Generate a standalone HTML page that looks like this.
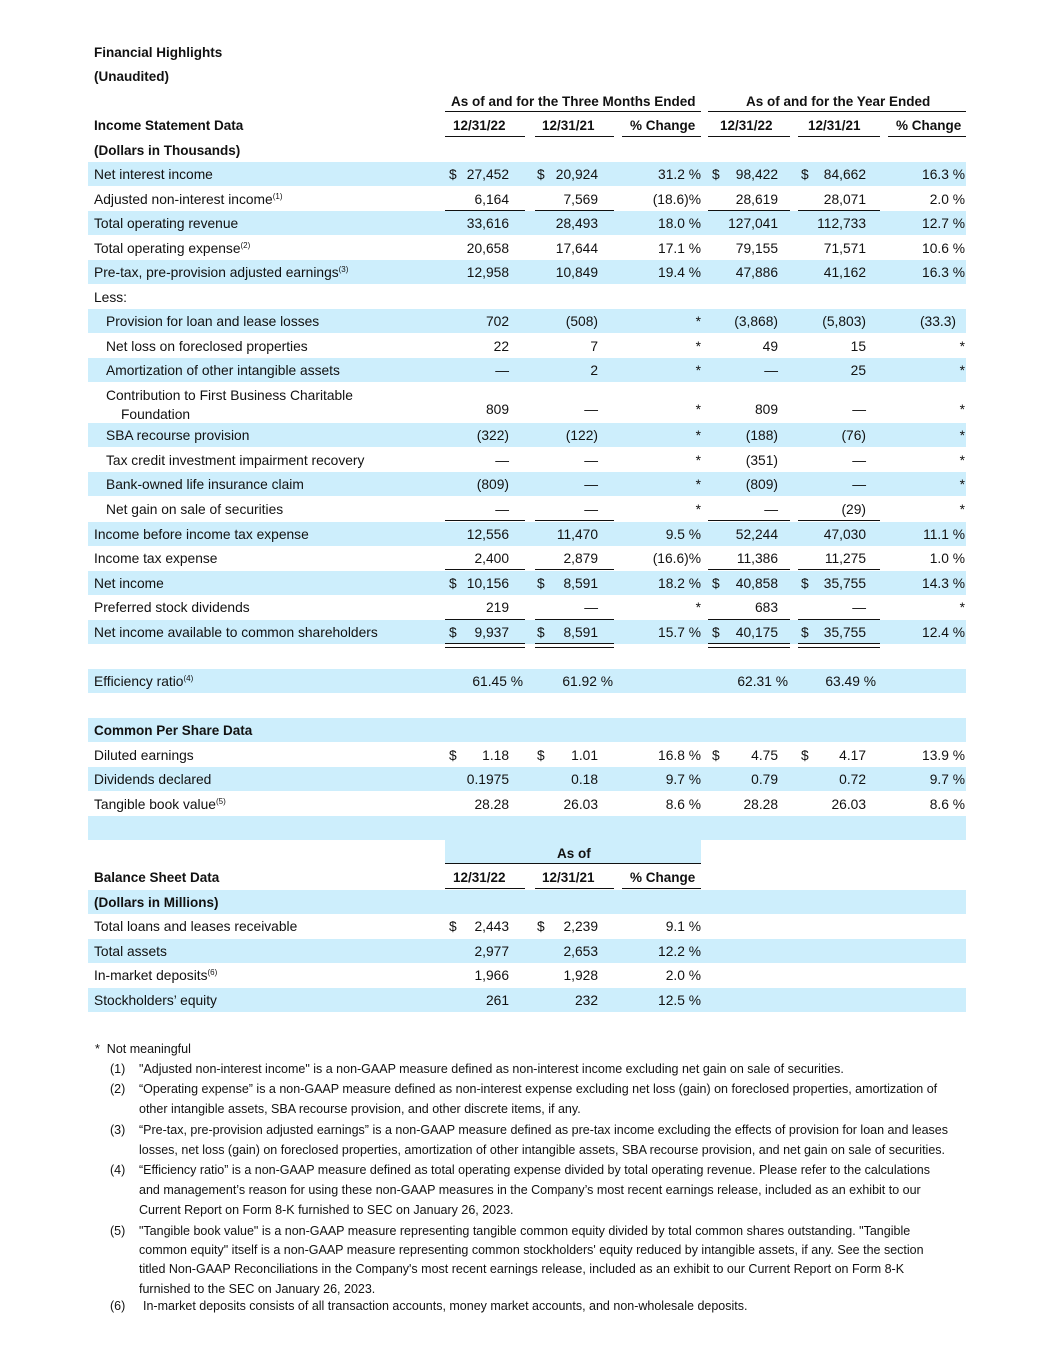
<!DOCTYPE html>
<html><head><meta charset="utf-8">
<style>
body{margin:0;background:#fff;}
#p{position:relative;width:1055px;height:1365px;font-family:"Liberation Sans",sans-serif;font-size:13.8px;color:#111;overflow:hidden;}
.r{position:absolute;left:88px;width:878px;height:24px;line-height:25px;}
.s{background:#cdeefc;}
.r span{position:absolute;white-space:nowrap;}
.l{left:6px}.i{left:18px}
.c1{right:457px}.c2{right:368px}.c3{right:265px}.c4{right:188px}.c5{right:100px}.c6{right:1px}
.d1{left:361px}.d2{left:449px}.d4{left:624px}.d5{left:713px}
b{font-weight:bold;font-size:13.5px}
sup{font-size:8px;vertical-align:5px;line-height:0}
.ln{position:absolute;height:0;border-top:1.5px solid #111;}
.f{position:absolute;font-size:12.5px;white-space:nowrap;line-height:14px}
</style></head><body><div id="p">
<div class="r" style="top:40px"><span class="l"><b>Financial Highlights</b></span></div>
<div class="r" style="top:64px"><span class="l"><b>(Unaudited)</b></span></div>
<div class="r" style="top:89px"><span style="left:363px"><b>As of and for the Three Months Ended</b></span><span style="left:658px"><b>As of and for the Year Ended</b></span></div>
<div class="ln" style="left:445px;width:256px;top:111px"></div>
<div class="ln" style="left:708px;width:258px;top:111px"></div>
<div class="r" style="top:113px"><span class="l"><b>Income Statement Data</b></span><span style="left:365px"><b>12/31/22</b></span><span style="left:454px"><b>12/31/21</b></span><span style="left:542px"><b>% Change</b></span><span style="left:632px"><b>12/31/22</b></span><span style="left:720px"><b>12/31/21</b></span><span style="left:808px"><b>% Change</b></span></div>
<div class="ln" style="left:445px;width:80px;top:136px"></div>
<div class="ln" style="left:535px;width:79px;top:136px"></div>
<div class="ln" style="left:622px;width:79px;top:136px"></div>
<div class="ln" style="left:708px;width:82px;top:136px"></div>
<div class="ln" style="left:798px;width:82px;top:136px"></div>
<div class="ln" style="left:888px;width:78px;top:136px"></div>
<div class="r" style="top:138px"><span class="l"><b>(Dollars in Thousands)</b></span></div>

<div class="r s" style="top:162px"><span class="l">Net interest income</span><span class="d1">$</span><span class="c1">27,452</span><span class="d2">$</span><span class="c2">20,924</span><span class="c3">31.2 %</span><span class="d4">$</span><span class="c4">98,422</span><span class="d5">$</span><span class="c5">84,662</span><span class="c6">16.3 %</span></div>
<div class="r" style="top:187px"><span class="l">Adjusted non-interest income<sup>(1)</sup></span><span class="c1">6,164</span><span class="c2">7,569</span><span class="c3">(18.6)%</span><span class="c4">28,619</span><span class="c5">28,071</span><span class="c6">2.0 %</span></div>
<div class="ln" style="left:445px;width:80px;top:210px"></div><div class="ln" style="left:535px;width:79px;top:210px"></div><div class="ln" style="left:708px;width:82px;top:210px"></div><div class="ln" style="left:798px;width:82px;top:210px"></div>
<div class="r s" style="top:211px"><span class="l">Total operating revenue</span><span class="c1">33,616</span><span class="c2">28,493</span><span class="c3">18.0 %</span><span class="c4">127,041</span><span class="c5">112,733</span><span class="c6">12.7 %</span></div>
<div class="r" style="top:236px"><span class="l">Total operating expense<sup>(2)</sup></span><span class="c1">20,658</span><span class="c2">17,644</span><span class="c3">17.1 %</span><span class="c4">79,155</span><span class="c5">71,571</span><span class="c6">10.6 %</span></div>
<div class="r s" style="top:260px"><span class="l">Pre-tax, pre-provision adjusted earnings<sup>(3)</sup></span><span class="c1">12,958</span><span class="c2">10,849</span><span class="c3">19.4 %</span><span class="c4">47,886</span><span class="c5">41,162</span><span class="c6">16.3 %</span></div>
<div class="r" style="top:285px"><span class="l">Less:</span></div>
<div class="r s" style="top:309px"><span class="i">Provision for loan and lease losses</span><span class="c1">702</span><span class="c2">(508)</span><span class="c3">*</span><span class="c4">(3,868)</span><span class="c5">(5,803)</span><span class="c6" style="right:10px">(33.3)</span></div>
<div class="r" style="top:334px"><span class="i">Net loss on foreclosed properties</span><span class="c1">22</span><span class="c2">7</span><span class="c3">*</span><span class="c4">49</span><span class="c5">15</span><span class="c6">*</span></div>
<div class="r s" style="top:358px"><span class="i">Amortization of other intangible assets</span><span class="c1">—</span><span class="c2">2</span><span class="c3">*</span><span class="c4">—</span><span class="c5">25</span><span class="c6">*</span></div>
<div class="r" style="top:383px;height:40px"><span class="i">Contribution to First Business Charitable</span><span style="left:33px;top:19px">Foundation</span><span class="c1" style="top:14px">809</span><span class="c2" style="top:14px">—</span><span class="c3" style="top:14px">*</span><span class="c4" style="top:14px">809</span><span class="c5" style="top:14px">—</span><span class="c6" style="top:14px">*</span></div>
<div class="r s" style="top:423px"><span class="i">SBA recourse provision</span><span class="c1">(322)</span><span class="c2">(122)</span><span class="c3">*</span><span class="c4">(188)</span><span class="c5">(76)</span><span class="c6">*</span></div>
<div class="r" style="top:448px"><span class="i">Tax credit investment impairment recovery</span><span class="c1">—</span><span class="c2">—</span><span class="c3">*</span><span class="c4">(351)</span><span class="c5">—</span><span class="c6">*</span></div>
<div class="r s" style="top:472px"><span class="i">Bank-owned life insurance claim</span><span class="c1">(809)</span><span class="c2">—</span><span class="c3">*</span><span class="c4">(809)</span><span class="c5">—</span><span class="c6">*</span></div>
<div class="r" style="top:497px"><span class="i">Net gain on sale of securities</span><span class="c1">—</span><span class="c2">—</span><span class="c3">*</span><span class="c4">—</span><span class="c5">(29)</span><span class="c6">*</span></div>
<div class="ln" style="left:445px;width:80px;top:520px"></div><div class="ln" style="left:535px;width:79px;top:520px"></div><div class="ln" style="left:708px;width:82px;top:520px"></div><div class="ln" style="left:798px;width:82px;top:520px"></div>
<div class="r s" style="top:522px"><span class="l">Income before income tax expense</span><span class="c1">12,556</span><span class="c2">11,470</span><span class="c3">9.5 %</span><span class="c4">52,244</span><span class="c5">47,030</span><span class="c6">11.1 %</span></div>
<div class="r" style="top:546px"><span class="l">Income tax expense</span><span class="c1">2,400</span><span class="c2">2,879</span><span class="c3">(16.6)%</span><span class="c4">11,386</span><span class="c5">11,275</span><span class="c6">1.0 %</span></div>
<div class="ln" style="left:445px;width:80px;top:569px"></div><div class="ln" style="left:535px;width:79px;top:569px"></div><div class="ln" style="left:708px;width:82px;top:569px"></div><div class="ln" style="left:798px;width:82px;top:569px"></div>
<div class="r s" style="top:571px"><span class="l">Net income</span><span class="d1">$</span><span class="c1">10,156</span><span class="d2">$</span><span class="c2">8,591</span><span class="c3">18.2 %</span><span class="d4">$</span><span class="c4">40,858</span><span class="d5">$</span><span class="c5">35,755</span><span class="c6">14.3 %</span></div>
<div class="r" style="top:595px"><span class="l">Preferred stock dividends</span><span class="c1">219</span><span class="c2">—</span><span class="c3">*</span><span class="c4">683</span><span class="c5">—</span><span class="c6">*</span></div>
<div class="ln" style="left:445px;width:80px;top:619px"></div><div class="ln" style="left:535px;width:79px;top:619px"></div><div class="ln" style="left:708px;width:82px;top:619px"></div><div class="ln" style="left:798px;width:82px;top:619px"></div>
<div class="r s" style="top:620px"><span class="l">Net income available to common shareholders</span><span class="d1">$</span><span class="c1">9,937</span><span class="d2">$</span><span class="c2">8,591</span><span class="c3">15.7 %</span><span class="d4">$</span><span class="c4">40,175</span><span class="d5">$</span><span class="c5">35,755</span><span class="c6">12.4 %</span></div>
<div class="ln" style="left:445px;width:80px;top:643px"></div><div class="ln" style="left:535px;width:79px;top:643px"></div><div class="ln" style="left:708px;width:82px;top:643px"></div><div class="ln" style="left:798px;width:82px;top:643px"></div>
<div class="ln" style="left:445px;width:80px;top:647px"></div><div class="ln" style="left:535px;width:79px;top:647px"></div><div class="ln" style="left:708px;width:82px;top:647px"></div><div class="ln" style="left:798px;width:82px;top:647px"></div>
<div class="r s" style="top:669px"><span class="l">Efficiency ratio<sup>(4)</sup></span><span class="c1" style="right:443px">61.45 %</span><span class="c2" style="right:353px">61.92 %</span><span class="c4" style="right:178px">62.31 %</span><span class="c5" style="right:90px">63.49 %</span></div>
<div class="r s" style="top:718px"><span class="l"><b>Common Per Share Data</b></span></div>
<div class="r" style="top:743px"><span class="l">Diluted earnings</span><span class="d1">$</span><span class="c1">1.18</span><span class="d2">$</span><span class="c2">1.01</span><span class="c3">16.8 %</span><span class="d4">$</span><span class="c4">4.75</span><span class="d5">$</span><span class="c5">4.17</span><span class="c6">13.9 %</span></div>
<div class="r s" style="top:767px"><span class="l">Dividends declared</span><span class="c1">0.1975</span><span class="c2">0.18</span><span class="c3">9.7 %</span><span class="c4">0.79</span><span class="c5">0.72</span><span class="c6">9.7 %</span></div>
<div class="r" style="top:792px"><span class="l">Tangible book value<sup>(5)</sup></span><span class="c1">28.28</span><span class="c2">26.03</span><span class="c3">8.6 %</span><span class="c4">28.28</span><span class="c5">26.03</span><span class="c6">8.6 %</span></div>
<div class="r s" style="top:816px"></div>
<div style="position:absolute;left:445px;width:256px;top:840px;height:24px;background:#cdeefc"></div>
<div class="r" style="top:841px"><span style="left:469px"><b>As of</b></span></div>
<div class="ln" style="left:445px;width:256px;top:863px"></div>
<div class="r" style="top:865px"><span class="l"><b>Balance Sheet Data</b></span><span style="left:365px"><b>12/31/22</b></span><span style="left:454px"><b>12/31/21</b></span><span style="left:542px"><b>% Change</b></span></div>
<div class="ln" style="left:445px;width:80px;top:888px"></div><div class="ln" style="left:535px;width:79px;top:888px"></div><div class="ln" style="left:622px;width:79px;top:888px"></div>
<div class="r s" style="top:890px"><span class="l"><b>(Dollars in Millions)</b></span></div>
<div class="r" style="top:914px"><span class="l">Total loans and leases receivable</span><span class="d1">$</span><span class="c1">2,443</span><span class="d2">$</span><span class="c2">2,239</span><span class="c3">9.1 %</span></div>
<div class="r s" style="top:939px"><span class="l">Total assets</span><span class="c1">2,977</span><span class="c2">2,653</span><span class="c3">12.2 %</span></div>
<div class="r" style="top:963px"><span class="l">In-market deposits<sup>(6)</sup></span><span class="c1">1,966</span><span class="c2">1,928</span><span class="c3">2.0 %</span></div>
<div class="r s" style="top:988px"><span class="l">Stockholders’ equity</span><span class="c1">261</span><span class="c2">232</span><span class="c3">12.5 %</span></div>

<div class="f" style="left:95px;top:1042px">*&nbsp; Not meaningful</div>
<div class="f" style="left:110px;top:1062px">(1)</div><div class="f" style="left:139px;top:1062px">"Adjusted non-interest income" is a non-GAAP measure defined as non-interest income excluding net gain on sale of securities.</div>
<div class="f" style="left:110px;top:1082px">(2)</div><div class="f" style="left:139px;top:1082px">“Operating expense” is a non-GAAP measure defined as non-interest expense excluding net loss (gain) on foreclosed properties, amortization of</div>
<div class="f" style="left:139px;top:1102px">other intangible assets, SBA recourse provision, and other discrete items, if any.</div>
<div class="f" style="left:110px;top:1123px">(3)</div><div class="f" style="left:139px;top:1123px">“Pre-tax, pre-provision adjusted earnings” is a non-GAAP measure defined as pre-tax income excluding the effects of provision for loan and leases</div>
<div class="f" style="left:139px;top:1143px">losses, net loss (gain) on foreclosed properties, amortization of other intangible assets, SBA recourse provision, and net gain on sale of securities.</div>
<div class="f" style="left:110px;top:1163px">(4)</div><div class="f" style="left:139px;top:1163px">“Efficiency ratio” is a non-GAAP measure defined as total operating expense divided by total operating revenue. Please refer to the calculations</div>
<div class="f" style="left:139px;top:1183px">and management’s reason for using these non-GAAP measures in the Company’s most recent earnings release, included as an exhibit to our</div>
<div class="f" style="left:139px;top:1203px">Current Report on Form 8-K furnished to SEC on January 26, 2023.</div>
<div class="f" style="left:110px;top:1224px">(5)</div><div class="f" style="left:139px;top:1224px">"Tangible book value" is a non-GAAP measure representing tangible common equity divided by total common shares outstanding. "Tangible</div>
<div class="f" style="left:139px;top:1243px">common equity" itself is a non-GAAP measure representing common stockholders' equity reduced by intangible assets, if any. See the section</div>
<div class="f" style="left:139px;top:1262px">titled Non-GAAP Reconciliations in the Company's most recent earnings release, included as an exhibit to our Current Report on Form 8-K</div>
<div class="f" style="left:139px;top:1282px">furnished to the SEC on January 26, 2023.</div>
<div class="f" style="left:110px;top:1299px">(6)</div><div class="f" style="left:143px;top:1299px">In-market deposits consists of all transaction accounts, money market accounts, and non-wholesale deposits.</div>
</div></body></html>
